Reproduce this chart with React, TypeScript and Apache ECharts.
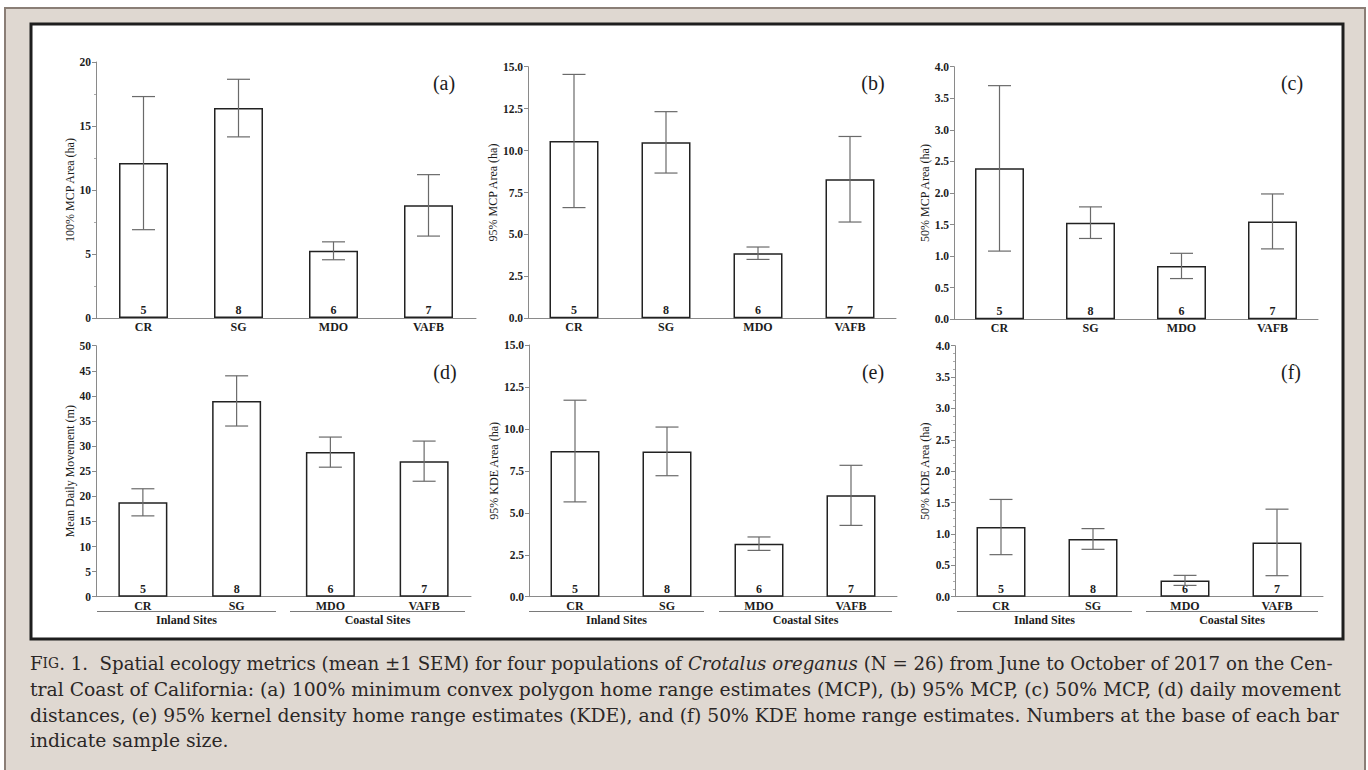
import React, { useEffect, useRef } from "react";
import * as echarts from "echarts";

// ---------- data ----------
const categories = ["CR", "SG", "MDO", "VAFB"];
const sampleSizes = [5, 8, 6, 7];

const mcp100Mean = [12.1, 16.4, 5.25, 8.8];
const mcp100Sem = [5.2, 2.25, 0.7, 2.4];
const mcp95Mean = [10.57, 10.49, 3.88, 8.29];
const mcp95Sem = [3.97, 1.83, 0.37, 2.55];
const mcp50Mean = [2.39, 1.53, 0.845, 1.55];
const mcp50Sem = [1.31, 0.25, 0.2, 0.435];
const movementMean = [18.8, 39.0, 28.8, 27.0];
const movementSem = [2.7, 5.0, 3.0, 4.0];
const kde95Mean = [8.68, 8.66, 3.16, 6.04];
const kde95Sem = [3.03, 1.45, 0.4, 1.79];
const kde50Mean = [1.11, 0.92, 0.26, 0.865];
const kde50Sem = [0.44, 0.165, 0.08, 0.53];

const panelMeans = [mcp100Mean, mcp95Mean, mcp50Mean, movementMean, kde95Mean, kde50Mean];
const panelSems = [mcp100Sem, mcp95Sem, mcp50Sem, movementSem, kde95Sem, kde50Sem];

const yMaxes = [20, 15, 4, 50, 15, 4];
const yIntervals = [5, 2.5, 0.5, 5, 2.5, 0.5];
const yDecimals = [0, 1, 1, 0, 1, 1];
const yTitles = [
  "100% MCP Area (ha)",
  "95% MCP Area (ha)",
  "50% MCP Area (ha)",
  "Mean Daily Movement (m)",
  "95% KDE Area (ha)",
  "50% KDE Area (ha)",
];
const panelLetters = ["(a)", "(b)", "(c)", "(d)", "(e)", "(f)"];
const groupNames = ["Inland Sites", "Coastal Sites"];

const captionLines = [
  "{F|F}{sc|IG}{n|. 1.  Spatial ecology metrics (mean ±1 SEM) for four populations of }{i|Crotalus oreganus}{n| (N = 26) from June to October of 2017 on the Cen-}",
  "{n|tral Coast of California: (a) 100% minimum convex polygon home range estimates (MCP), (b) 95% MCP, (c) 50% MCP, (d) daily movement}",
  "{n|distances, (e) 95% kernel density home range estimates (KDE), and (f) 50% KDE home range estimates. Numbers at the base of each bar}",
  "{n|indicate sample size.}",
];

// ---------- layout ----------
const grids = [
  { left: 96, top: 62, width: 380, height: 256 },
  { left: 528, top: 66.7, width: 368, height: 251.6 },
  { left: 954, top: 66.7, width: 364, height: 252.6 },
  { left: 96, top: 345.7, width: 375, height: 251 },
  { left: 529, top: 345, width: 368, height: 251.7 },
  { left: 955, top: 345.7, width: 368, height: 251 },
];
const titleGaps = [18, 25, 23, 18, 26, 24];
const letterPos = [
  [444, 83], [873, 83], [1292, 83],
  [445, 372], [873, 372], [1291, 372],
];
// group underline spans for bottom row panels: [inlandStart, inlandEnd, coastalStart, coastalEnd]
const groupSpans = [
  [97, 276, 290, 465],
  [529, 704, 719, 892],
  [957, 1132, 1146, 1318],
];

const SERIF = "Liberation Serif";
const AXIS_GRAY = "#8a8a8a";
const INK = "#1c1c1c";

function buildOption() {
  const xAxis: any[] = [];
  const yAxis: any[] = [];
  const series: any[] = [];
  const grid: any[] = grids.map((g) => ({ ...g, containLabel: false }));

  for (let i = 0; i < 6; i++) {
    xAxis.push({
      type: "category",
      gridIndex: i,
      data: categories,
      axisLine: { show: true, lineStyle: { color: AXIS_GRAY, width: 1 } },
      axisTick: { show: false },
      axisLabel: {
        margin: 3,
        fontFamily: SERIF,
        fontSize: 12,
        fontWeight: "bold",
        color: INK,
      },
      splitLine: { show: false },
    });
    const hasMinor = i === 0 || i === 5;
    yAxis.push({
      type: "value",
      gridIndex: i,
      min: 0,
      max: yMaxes[i],
      interval: yIntervals[i],
      name: yTitles[i],
      nameLocation: "middle",
      nameGap: titleGaps[i],
      nameTextStyle: { fontFamily: SERIF, fontSize: 12, color: INK },
      axisLine: { show: true, lineStyle: { color: AXIS_GRAY, width: 1 } },
      axisTick: { show: true, length: 4, lineStyle: { color: AXIS_GRAY } },
      minorTick: {
        show: hasMinor,
        splitNumber: i === 0 ? 2 : 4,
        length: 2,
        lineStyle: { color: "#aaaaaa" },
      },
      axisLabel: {
        margin: 5,
        fontFamily: SERIF,
        fontSize: 11.5,
        fontWeight: "bold",
        color: INK,
        formatter: (v: number) => v.toFixed(yDecimals[i]),
      },
      splitLine: { show: false },
    });

    const means = panelMeans[i];
    const sems = panelSems[i];
    series.push({
      type: "bar",
      xAxisIndex: i,
      yAxisIndex: i,
      data: means,
      barWidth: 49,
      itemStyle: { color: "#ffffff", borderColor: "#222222", borderWidth: 1.5 },
      label: {
        show: true,
        position: "insideBottom",
        distance: 2,
        fontFamily: SERIF,
        fontSize: 12,
        fontWeight: "bold",
        color: INK,
        formatter: (p: any) => String(sampleSizes[p.dataIndex]),
      },
      silent: true,
      z: 2,
    });
    series.push({
      type: "custom",
      xAxisIndex: i,
      yAxisIndex: i,
      data: means.map((m, j) => [j, m - sems[j], m + sems[j]]),
      z: 5,
      silent: true,
      renderItem: (params: any, api: any) => {
        const x = api.value(0);
        const lo = api.coord([x, api.value(1)]);
        const hi = api.coord([x, api.value(2)]);
        const half = 11.5;
        const st = { stroke: "#6a6a6a", lineWidth: 1.2, fill: "none" };
        return {
          type: "group",
          children: [
            { type: "line", shape: { x1: lo[0], y1: lo[1], x2: hi[0], y2: hi[1] }, style: st },
            { type: "line", shape: { x1: hi[0] - half, y1: hi[1], x2: hi[0] + half, y2: hi[1] }, style: st },
            { type: "line", shape: { x1: lo[0] - half, y1: lo[1], x2: lo[0] + half, y2: lo[1] }, style: st },
          ],
        };
      },
    });
  }

  const graphic: any[] = [
    {
      type: "rect",
      z: -10,
      shape: { x: 5, y: 8, width: 1360, height: 775 },
      style: { fill: "#dfd8d1", stroke: "#8a7e76", lineWidth: 2 },
    },
    {
      type: "rect",
      z: -9,
      shape: { x: 31, y: 24, width: 1312, height: 615 },
      style: { fill: "#ffffff", stroke: "#1e1e1e", lineWidth: 3 },
    },
  ];

  panelLetters.forEach((t, i) => {
    graphic.push({
      type: "text",
      z: 10,
      x: letterPos[i][0],
      y: letterPos[i][1],
      style: {
        text: t,
        fontFamily: SERIF,
        fontSize: 20,
        fill: INK,
        align: "center",
        verticalAlign: "middle",
      },
    });
  });

  groupSpans.forEach((s) => {
    const y = 611.5;
    [[s[0], s[1]], [s[2], s[3]]].forEach((span, k) => {
      graphic.push({
        type: "line",
        z: 10,
        shape: { x1: span[0], y1: y, x2: span[1], y2: y },
        style: { stroke: "#7a7a7a", lineWidth: 1 },
      });
      graphic.push({
        type: "text",
        z: 10,
        x: (span[0] + span[1]) / 2,
        y: 619.5,
        style: {
          text: groupNames[k],
          fontFamily: SERIF,
          fontSize: 12,
          fontWeight: "bold",
          fill: INK,
          align: "center",
          verticalAlign: "middle",
        },
      });
    });
  });

  const capFont = "DejaVu Serif";
  const capColor = "#2b2726";
  const capSizes = [18.2, 18.75, 18.75, 18.75];
  const capY = [663, 689, 715, 740];
  captionLines.forEach((line, i) => {
    const sz = capSizes[i];
    graphic.push({
      type: "text",
      z: 10,
      x: 30,
      y: capY[i],
      style: {
        text: line,
        fontFamily: capFont,
        fontSize: sz,
        fill: capColor,
        align: "left",
        verticalAlign: "middle",
        rich: {
          n: { fontFamily: capFont, fontSize: sz, fill: capColor },
          F: { fontFamily: capFont, fontSize: sz, fill: capColor },
          sc: { fontFamily: capFont, fontSize: sz * 0.76, fill: capColor },
          i: { fontFamily: capFont, fontSize: sz, fill: capColor, fontStyle: "italic" },
        },
      },
    });
  });

  return {
    animation: false,
    backgroundColor: "#ffffff",
    grid,
    xAxis,
    yAxis,
    series,
    graphic,
  };
}

export default function App() {
  const ref = useRef<HTMLDivElement>(null);
  useEffect(() => {
    if (!ref.current) return;
    const chart = echarts.init(ref.current, undefined, { renderer: "svg" });
    chart.setOption(buildOption() as any);
    return () => chart.dispose();
  }, []);
  return (
    <div
      ref={ref}
      style={{ position: "fixed", left: 0, top: 0, width: 1368, height: 770 }}
    />
  );
}
